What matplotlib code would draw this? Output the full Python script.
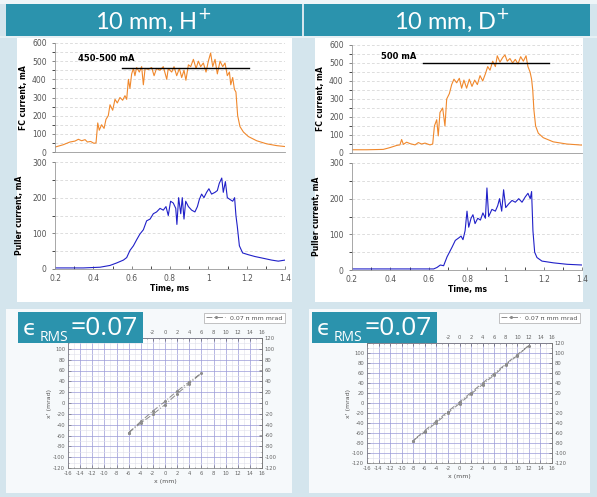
import matplotlib.pyplot as plt
from matplotlib.patches import Rectangle
from matplotlib.ticker import MultipleLocator, FuncFormatter

plt.rcParams['axes.unicode_minus'] = False

W, H = 597, 497

# ---- data: FC and puller currents (time in ms, current in mA)
t_fc_h = [0.200, 0.243, 0.278, 0.304, 0.322, 0.339, 0.357, 0.369, 0.386, 0.403, 0.414, 0.423,
          0.431, 0.443, 0.456, 0.466, 0.478, 0.487, 0.501, 0.513, 0.525, 0.539, 0.553, 0.565,
          0.574, 0.583, 0.591, 0.600, 0.609, 0.617, 0.626, 0.640, 0.652, 0.661, 0.670, 0.687,
          0.704, 0.717, 0.730, 0.748, 0.765, 0.783, 0.791, 0.809, 0.821, 0.835, 0.849, 0.861,
          0.873, 0.883, 0.896, 0.908, 0.922, 0.936, 0.948, 0.960, 0.974, 0.988, 1.000, 1.012,
          1.023, 1.035, 1.047, 1.061, 1.075, 1.087, 1.099, 1.110, 1.117, 1.127, 1.136, 1.144,
          1.153, 1.165, 1.183, 1.209, 1.252, 1.304, 1.357, 1.400]
i_fc_h = [27, 40, 55, 60, 70, 62, 68, 55, 58, 48, 50, 160,
          120, 150, 130, 180, 200, 260, 230, 290, 270, 300, 285, 310,
          290, 400, 350, 430, 460, 420, 465, 440, 470, 370, 460, 455,
          465, 420, 460, 450, 470, 400, 460, 440, 470, 420, 460, 410,
          450, 395, 480, 470, 510, 460, 500, 470, 490, 440, 500, 545,
          470, 510, 430, 500, 470, 490, 420, 440, 370, 410, 345, 330,
          200, 140, 110, 85, 62, 45, 35, 30]

t_pu_h = [0.200, 0.348, 0.435, 0.487, 0.522, 0.557, 0.574, 0.591, 0.609, 0.626, 0.643, 0.661,
          0.678, 0.696, 0.713, 0.730, 0.748, 0.765, 0.779, 0.791, 0.803, 0.817, 0.830, 0.836,
          0.845, 0.856, 0.864, 0.873, 0.882, 0.896, 0.913, 0.930, 0.943, 0.953, 0.965, 0.977,
          0.991, 1.003, 1.017, 1.035, 1.047, 1.057, 1.070, 1.078, 1.089, 1.099, 1.113, 1.127,
          1.137, 1.144, 1.151, 1.162, 1.179, 1.209, 1.243, 1.287, 1.330, 1.365, 1.400]
i_pu_h = [3, 3, 5, 10, 17, 25, 32, 52, 65, 82, 98, 110,
          135, 140, 155, 160, 170, 165, 175, 150, 190, 185, 170, 125,
          200, 155, 200, 140, 190, 175, 165, 160, 175, 195, 210, 200,
          215, 225, 210, 215, 220, 240, 255, 215, 245, 200, 195, 190,
          200, 150, 120, 65, 45, 40, 35, 30, 25, 22, 25]

t_fc_d = [0.200, 0.277, 0.363, 0.398, 0.433, 0.450, 0.459, 0.468, 0.485, 0.503, 0.529, 0.546,
          0.563, 0.581, 0.607, 0.621, 0.630, 0.642, 0.650, 0.659, 0.673, 0.685, 0.694, 0.708,
          0.720, 0.732, 0.746, 0.760, 0.772, 0.784, 0.798, 0.812, 0.826, 0.840, 0.854, 0.868,
          0.882, 0.896, 0.908, 0.920, 0.934, 0.948, 0.958, 0.972, 0.986, 0.998, 1.010, 1.024,
          1.038, 1.052, 1.066, 1.080, 1.094, 1.108, 1.118, 1.129, 1.137, 1.143, 1.149, 1.158,
          1.172, 1.198, 1.250, 1.320, 1.398]
i_fc_d = [18, 18, 20, 30, 42, 45, 75, 48, 60, 52, 45, 58,
          50, 55, 45, 50, 150, 185, 95, 225, 250, 150, 300, 330,
          380, 410, 390, 415, 360, 405, 360, 410, 370, 405, 380, 430,
          400, 440, 480, 460, 510, 480, 540, 505, 530, 545, 510, 525,
          500, 520, 495, 535, 510, 540, 480, 450, 410, 350, 240, 150,
          110, 85, 62, 50, 44]

t_pu_d = [0.200, 0.452, 0.626, 0.643, 0.661, 0.678, 0.696, 0.722, 0.739, 0.757, 0.769, 0.779,
          0.790, 0.800, 0.809, 0.821, 0.831, 0.842, 0.856, 0.870, 0.883, 0.896, 0.904, 0.913,
          0.930, 0.948, 0.960, 0.970, 0.981, 0.991, 1.002, 1.017, 1.035, 1.052, 1.070, 1.087,
          1.104, 1.118, 1.130, 1.137, 1.144, 1.153, 1.165, 1.191, 1.252, 1.322, 1.400]
i_pu_d = [3, 3, 3, 7, 14, 12, 37, 64, 83, 90, 95, 85,
          110, 165, 120, 145, 155, 130, 145, 140, 160, 145, 230, 150,
          170, 165, 180, 200, 165, 225, 175, 185, 195, 190, 200, 190,
          205, 215, 200, 220, 110, 50, 35, 25, 20, 16, 14]

# ---- data: emittance ellipses (x in mm, x' in mrad)
ell_x_h = [-6, -4, -2, 0, 2, 4, 6, 4, 2, 0, -2, -4, -6]
ell_y_h = [-55, -37, -21, -3, 17, 36, 55, 39, 22, 3, -15, -34, -55]
ell_x_d = [-8, -6, -4, -2, 0, 2, 4, 6, 8, 10, 12, 10, 8, 6, 4, 2, 0, -2, -4, -6, -8]
ell_y_d = [-75, -58, -39, -20, -1, 18, 37, 56, 76, 95, 115, 97, 78, 59, 40, 21, 2, -17, -36, -55, -75]

titles = ['10 mm, H$^{+}$', '10 mm, D$^{+}$']
beam_labels = ['450-500 mA', '500 mA']
beam_levels = [460, 500]
emit_label = '0.07 π mm mrad'

ORANGE = '#f0882c'
BLUE = '#2020c8'
TEAL = '#2b93ad'
PANEL = '#d4e5ed'


def rect(x0, y0, x1, y1):
    return [x0 / W, 1 - y1 / H, (x1 - x0) / W, (y1 - y0) / H]


def add_box(x0, y0, x1, y1, color, z=-5):
    fig.patches.append(Rectangle((x0 / W, 1 - y1 / H), (x1 - x0) / W, (y1 - y0) / H,
                                 transform=fig.transFigure, facecolor=color,
                                 edgecolor='none', zorder=z))


fig = plt.figure(figsize=(W / 100, H / 100), dpi=100, facecolor=PANEL)

# background pieces
add_box(0, 0, W, 4, '#eef5f8')
add_box(6, 4, 302, 36, TEAL)
add_box(304, 4, 590, 36, TEAL)
add_box(0, 36, W, 38, '#e6f0f4')
add_box(17, 38, 292, 302, 'white')
add_box(315, 38, 583, 302, 'white')
add_box(6, 309, 292, 493, '#f6f9fb')
add_box(309, 309, 590, 493, '#f6f9fb')

for i, cx in enumerate([153, 452]):
    fig.text(cx / W, 1 - 20 / H, titles[i], color='white', fontsize=17,
             family=['Lato', 'DejaVu Sans'], ha='center', va='center')


def style_time_axes(ax):
    for s in ['top', 'right']:
        ax.spines[s].set_visible(False)
    for s in ['left', 'bottom']:
        ax.spines[s].set_color('#999999')
        ax.spines[s].set_linewidth(0.6)
    ax.set_facecolor('none')
    ax.set_xlim(0.2, 1.4)
    ax.xaxis.set_major_locator(MultipleLocator(0.2))
    ax.xaxis.set_minor_locator(MultipleLocator(0.1))
    ax.tick_params(labelsize=5.5, colors='#555555', width=0.5, length=2.5)
    ax.tick_params(which='minor', width=0.5, length=2)
    ax.grid(axis='y', which='both', color='#d0d0d0', lw=0.5, ls=(0, (4, 3)))


fc_sets = [(t_fc_h, i_fc_h), (t_fc_d, i_fc_d)]
pu_sets = [(t_pu_h, i_pu_h), (t_pu_d, i_pu_d)]
fc_rects = [rect(55, 43, 285, 152), rect(352, 45, 582, 153)]
pu_rects = [rect(55, 162, 285, 269), rect(352, 163, 582, 270)]
line_spans = [(0.55, 1.21), (0.57, 1.23)]
label_pos = [(0.32, 515), (0.35, 535)]

for k in range(2):
    ax = fig.add_axes(fc_rects[k])
    style_time_axes(ax)
    ax.plot(fc_sets[k][0], fc_sets[k][1], color=ORANGE, lw=0.8)
    ax.plot(line_spans[k], [beam_levels[k]] * 2, color='black', lw=1.0)
    ax.text(label_pos[k][0], label_pos[k][1], beam_labels[k], fontsize=6,
            fontweight='bold', ha='left', va='center')
    ax.set_ylim(0, 600)
    ax.yaxis.set_major_locator(MultipleLocator(100))
    ax.yaxis.set_minor_locator(MultipleLocator(50))
    ax.tick_params(axis='x', which='both', labelbottom=False, length=0)
    ax.set_ylabel('FC current, mA', fontsize=5.5, fontweight='bold', labelpad=3)

    ax = fig.add_axes(pu_rects[k])
    style_time_axes(ax)
    ax.plot(pu_sets[k][0], pu_sets[k][1], color=BLUE, lw=0.8)
    ax.set_ylim(0, 300)
    ax.yaxis.set_major_locator(MultipleLocator(100))
    ax.yaxis.set_minor_locator(MultipleLocator(50))
    ax.tick_params(axis='x', which='both', direction='in')
    ax.set_xticks([0.2, 0.4, 0.6, 0.8, 1.0, 1.2, 1.4], ['0.2', '0.4', '0.6', '0.8', '1', '1.2', '1.4'])
    ax.set_xlabel('Time, ms', fontsize=5.5, fontweight='bold', labelpad=1)
    ax.set_ylabel('Puller current, mA', fontsize=5.5, fontweight='bold', labelpad=6)

# ---- emittance plots
em_rects = [rect(68, 338, 262, 468), rect(367, 343, 552, 463)]
ell_sets = [(ell_x_h, ell_y_h), (ell_x_d, ell_y_d)]
leg_anchor = [(1.134, 1.09), (1.168, 1.14)]
# first top-axis tick value that is not hidden behind the epsilon box
top_first = [-2, -2]


def hide_below(limit):
    return FuncFormatter(lambda v, p: '' if v < limit else '%d' % v)


def hide_above(limit):
    return FuncFormatter(lambda v, p: '' if v > limit else '%d' % v)


for k in range(2):
    ax = fig.add_axes(em_rects[k])
    ax.set_facecolor('white')
    ax.set_xlim(-16, 16)
    ax.set_ylim(-120, 120)
    ax.xaxis.set_major_locator(MultipleLocator(2))
    ax.xaxis.set_minor_locator(MultipleLocator(1))
    ax.yaxis.set_major_locator(MultipleLocator(20))
    ax.yaxis.set_minor_locator(MultipleLocator(10))
    ax.grid(which='minor', color='#e0e0ea', lw=0.4)
    ax.grid(which='major', color='#9a9ad8', lw=0.5)
    ax.set_axisbelow(True)
    for s in ax.spines.values():
        s.set_color('#777777')
        s.set_linewidth(0.5)
    ax.tick_params(which='both', direction='in', top=True, right=True,
                   labelsize=3.8, colors='#666666', width=0.4, length=2, pad=2)
    ax.tick_params(which='minor', length=1)
    ax.plot(ell_sets[k][0], ell_sets[k][1], color='#8a8a8a', lw=0.7,
            ls=(0, (6, 2, 1, 2)), marker='o', ms=1.2, label=emit_label)
    ax.set_xlabel('x (mm)', fontsize=4.5, color='#555555', labelpad=2)
    ax.set_ylabel("x' (mrad)", fontsize=4.5, color='#555555', labelpad=1)
    ax.yaxis.set_major_formatter(hide_above(100))

    # twin axes for the top and right labels
    tx = ax.secondary_xaxis('top')
    tx.xaxis.set_major_locator(MultipleLocator(2))
    tx.xaxis.set_major_formatter(hide_below(top_first[k]))
    tx.tick_params(direction='in', labelsize=3.8, colors='#666666', width=0.4, length=2, pad=2)
    ry = ax.secondary_yaxis('right')
    ry.yaxis.set_major_locator(MultipleLocator(20))
    ry.tick_params(direction='in', labelsize=3.8, colors='#666666', width=0.4, length=2, pad=2)
    for s in [tx.spines['top'], ry.spines['right']]:
        s.set_color('#777777')
        s.set_linewidth(0.5)

    leg = ax.legend(loc='lower right', bbox_to_anchor=leg_anchor[k], fontsize=4.5,
                    fancybox=False, framealpha=1, edgecolor='#aaaaaa',
                    handlelength=3, borderpad=0.4, labelcolor='#555555')
    leg.get_frame().set_linewidth(0.5)

# epsilon_RMS label boxes
for x0 in [18, 312]:
    add_box(x0, 312, x0 + 125, 343, TEAL, z=5)
    fam = ['Open Sans', 'DejaVu Sans']
    fig.text((x0 + 5) / W, 1 - 335 / H, 'ϵ', color='white', fontsize=16,
             family=['DejaVu Sans'], va='baseline', zorder=6)
    fig.text((x0 + 22) / W, 1 - 341 / H, 'RMS', color='white', fontsize=10,
             family=fam, va='baseline', zorder=6)
    fig.text((x0 + 52) / W, 1 - 335 / H, '=0.07', color='white', fontsize=19,
             family=fam, va='baseline', zorder=6)

fig.savefig('out.png', dpi=100, facecolor=fig.get_facecolor())
